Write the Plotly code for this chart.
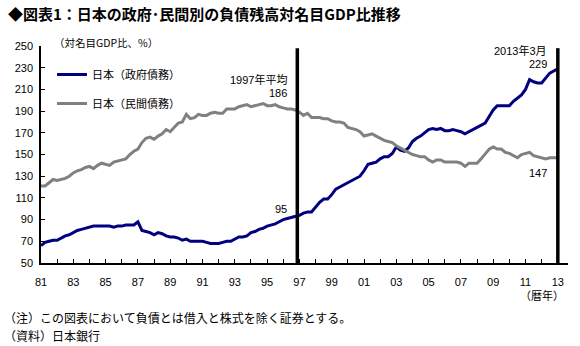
import plotly.graph_objects as go

# Quarterly data, 1981Q1 .. 2013Q1
start_year = 1981
gov_debt = [
    66, 69, 70, 71,
    71, 73, 75, 76,
    78, 80, 81, 82,
    83, 84, 84, 84,
    84, 84, 83, 84,
    84, 85, 85, 85,
    88, 80, 79, 78,
    76, 78, 77, 75,
    74, 74, 73, 71,
    72, 70, 70, 70,
    70, 69, 68, 68,
    68, 69, 70, 70,
    72, 74, 74, 75,
    78, 79, 81, 82,
    84, 85, 86, 88,
    90, 91, 92, 93,
    94, 96, 97, 97,
    102, 106, 109, 109,
    113, 118, 120, 122,
    124, 126, 128, 130,
    135, 141, 142, 143,
    146, 148, 148, 151,
    157, 154, 153, 156,
    162, 165, 167, 170,
    173, 174, 173, 174,
    172, 172, 173, 172,
    171, 169, 171, 173,
    175, 177, 179, 185,
    191, 195, 195, 195,
    195, 199, 202, 205,
    210, 219, 217, 216,
    216, 220, 225, 227,
    229,
]
priv_debt = [
    121, 121, 124, 127,
    126, 127, 128, 130,
    133, 135, 136, 138,
    139, 137, 140, 142,
    141, 140, 143, 144,
    145, 146, 150, 153,
    155, 161, 165, 166,
    164, 167, 169, 173,
    171, 175, 179, 180,
    187, 183, 184, 187,
    186, 186, 188, 189,
    188, 188, 192, 192,
    192, 194, 195, 196,
    194, 195, 196, 197,
    195, 195, 196, 194,
    193, 192, 192, 191,
    189, 186, 188, 184,
    184, 184, 183, 183,
    181, 180, 180, 179,
    175, 174, 173, 171,
    167, 168, 169, 167,
    165, 163, 162, 161,
    158, 156, 154, 152,
    150, 149, 148, 148,
    145, 143, 145, 145,
    143, 143, 143, 143,
    142, 139, 142, 142,
    142, 146, 150, 155,
    157, 155, 155, 152,
    151, 149, 147, 150,
    151, 152, 149, 148,
    147, 146, 147, 147,
    147,
]
x_quarters = [start_year + i / 4 for i in range(len(gov_debt))]

tick_years = list(range(1981, 2014))
tick_labels = [f"{y % 100:02d}" if (y - 1981) % 2 == 0 else "" for y in tick_years]
y_ticks = [50, 70, 90, 110, 130, 150, 170, 190, 210, 230, 250]

series_names = ["日本（政府債務）", "日本（民間債務）"]
title_text = "◆図表1：日本の政府･民間別の負債残高対名目GDP比推移"
unit_text = "（対名目GDP比、%）"
note1 = "（注）この図表において負債とは借入と株式を除く証券とする。"
note2 = "（資料）日本銀行"

W, H = 580, 346
L, R, T, B = 41, 568, 46, 263

def px(xp):
    return (xp - L) / (R - L)

def py(yp):
    return (B - yp) / (B - T)

FONT = "Arial, Liberation Sans, Noto Sans CJK JP"
JFONT = "Noto Sans CJK JP"

fig = go.Figure()
fig.add_trace(go.Scatter(x=x_quarters, y=gov_debt, mode="lines", name=series_names[0],
                         line=dict(color="#000080", width=3), legendgroup="a"))
fig.add_trace(go.Scatter(x=x_quarters, y=priv_debt, mode="lines", name=series_names[1],
                         line=dict(color="#808080", width=3), legendgroup="b"))

# vertical marker lines
for xv in [1996.87, 2013.0]:
    fig.add_shape(type="line", xref="x", yref="y", x0=xv, x1=xv, y0=50, y1=248,
                  line=dict(color="black", width=3.5))

fig.update_layout(
    width=W, height=H,
    margin=dict(l=L, r=W - R, t=T, b=H - B),
    paper_bgcolor="white", plot_bgcolor="white",
    showlegend=True,
    legend=dict(x=px(52), y=py(60), xanchor="left", yanchor="top",
                font=dict(family=JFONT, size=11, color="black"),
                bgcolor="rgba(0,0,0,0)", traceorder="grouped", tracegroupgap=10,
                itemwidth=30),
    xaxis=dict(range=[1981, 2013.63], tickvals=tick_years, ticktext=tick_labels,
               ticks="inside", ticklen=4, tickcolor="black", tickwidth=1,
               showline=True, linecolor="black", linewidth=1.5, showgrid=False,
               zeroline=False, ticklabelstandoff=8,
               tickfont=dict(family=FONT, size=11, color="black")),
    yaxis=dict(range=[50, 250], tickvals=y_ticks, ticks="inside", ticklen=4,
               tickcolor="black", tickwidth=1, showline=True, linecolor="black",
               linewidth=1.5, showgrid=False, zeroline=False, ticklabelstandoff=4,
               tickfont=dict(family=FONT, size=11, color="black")),
)

anns = [
    dict(text="<b>" + title_text + "</b>", x=6, y=13, xanchor="left", size=15, font=JFONT),
    dict(text=unit_text, x=52, y=42, xanchor="left", size=10.5, font=JFONT),
    dict(text="1997年平均", x=289, y=79, xanchor="right", size=11, font=FONT),
    dict(text="186", x=289, y=93, xanchor="right", size=11, font=FONT),
    dict(text="95", x=289, y=209, xanchor="right", size=11, font=FONT),
    dict(text="2013年3月", x=549, y=50, xanchor="right", size=11, font=FONT),
    dict(text="229", x=549, y=64, xanchor="right", size=11, font=FONT),
    dict(text="147", x=549, y=173, xanchor="right", size=11, font=FONT),
    dict(text="（暦年）", x=566, y=295, xanchor="right", size=11, font=JFONT),
    dict(text=note1, x=2, y=317, xanchor="left", size=12, font=JFONT),
    dict(text=note2, x=2, y=335, xanchor="left", size=12, font=JFONT),
]
for a in anns:
    fig.add_annotation(text=a["text"], xref="paper", yref="paper", x=px(a["x"]), y=py(a["y"]),
                       xanchor=a["xanchor"], yanchor="middle", showarrow=False,
                       font=dict(family=a["font"], size=a["size"], color="black"))

fig.write_html("out.html")
